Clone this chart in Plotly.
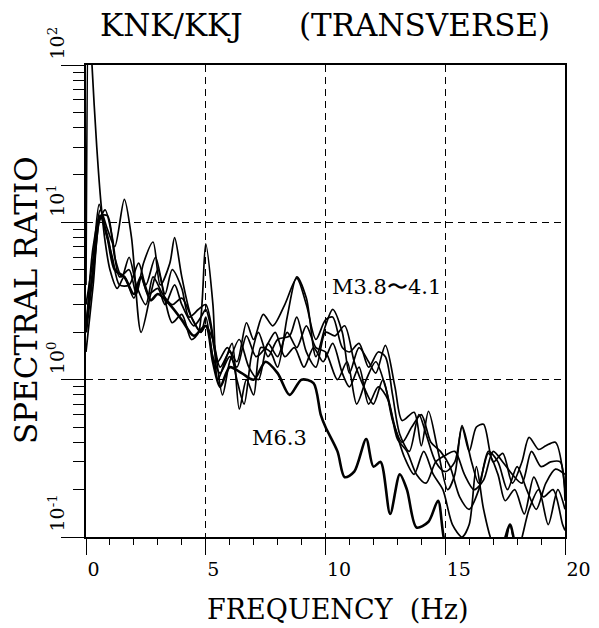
import math
import plotly.graph_objects as go

# ---- data ----
freq_1 = [0.0, 0.12, 0.25, 0.45, 0.63, 0.8, 1.0, 1.3, 1.6, 2.0, 2.3, 2.6, 3.0, 3.3, 3.7, 4.0, 4.5, 4.8, 5.0, 5.2, 5.5,
          5.9, 6.3, 6.7, 7.0, 7.4, 7.8, 8.3, 8.8, 9.2, 9.6, 10.0, 10.3, 10.7, 11.0, 11.4, 11.8, 12.2, 12.5, 12.8,
          13.1, 13.5, 13.9, 14.2, 14.6, 15.0, 15.4, 15.7, 16.0, 16.3, 16.6, 17.0, 17.4, 17.8, 18.2, 18.5, 18.9,
          19.2, 19.6, 20.0]
ratio_1 = [4.0, 300, 100, 30, 13, 7.5, 5.0, 3.8, 4.5, 3.3, 4.5, 3.5, 3.8, 3.0, 4.0, 3.0, 2.2, 2.5, 2.8, 2.2, 1.3,
           1.6, 1.3, 2.3, 1.8, 2.6, 2.2, 3.0, 4.4, 3.0, 1.8, 2.4, 2.5, 1.6, 1.5, 1.7, 1.2, 1.5, 1.4, 0.8,
           0.45, 0.35, 0.6, 0.45, 0.3, 0.26, 0.3, 0.5, 0.35, 0.5, 0.52, 0.3, 0.34, 0.22, 0.3, 0.43, 0.36,
           0.38, 0.4, 0.2]

freq_2 = [0.0, 0.3, 0.6, 0.9, 1.2, 1.6, 1.9, 2.3, 2.7, 3.0, 3.3, 3.6, 4.0, 4.4, 4.7, 5.0, 5.3, 5.5, 5.8, 6.1, 6.4,
          6.7, 7.0, 7.3, 7.7, 8.0, 8.4, 8.8, 9.2, 9.6, 10.0, 10.3, 10.7, 11.0, 11.4, 11.8, 12.1, 12.5, 12.9,
          13.2, 13.7, 14.0, 14.3, 14.7, 15.1, 15.4, 15.7, 16.1, 16.4, 16.8, 17.2, 17.5, 17.9, 18.3, 18.7,
          19.1, 19.5, 19.9, 20.0]
ratio_2 = [2.3, 5.0, 12, 9.0, 7.0, 14, 8.0, 2.0, 3.5, 5.0, 3.2, 2.3, 2.6, 1.8, 2.0, 7.3, 3.0, 1.0, 1.3, 1.7, 0.65,
           1.0, 0.8, 1.6, 1.5, 1.2, 2.5, 4.5, 3.3, 1.4, 2.2, 2.8, 2.0, 1.1, 1.6, 1.3, 1.1, 1.65, 0.9,
           0.55, 0.62, 0.38, 0.63, 0.35, 0.2, 0.25, 0.51, 0.3, 0.22, 0.34, 0.25, 0.17, 0.2, 0.14, 0.24,
           0.18, 0.2, 0.12, 0.11]

freq_3 = [0.0, 0.3, 0.55, 0.8, 1.1, 1.4, 1.8, 2.1, 2.4, 2.8, 3.1, 3.5, 3.7, 4.0, 4.4, 4.8, 5.0, 5.3, 5.6, 6.0, 6.3,
          6.6, 6.9, 7.2, 7.6, 8.0, 8.5, 8.8, 9.2, 9.6, 10.0, 10.4, 10.8, 11.2, 11.6, 12.0, 12.4, 12.8, 13.2,
          13.6, 14.0, 14.4, 14.8, 15.2, 15.6, 16.0, 16.4, 16.8, 17.2, 17.6, 18.0, 18.4, 18.8, 19.2, 19.6, 20.0]
ratio_3 = [1.5, 4.0, 10, 12, 8.0, 4.5, 5.0, 3.5, 5.5, 7.5, 4.0, 5.5, 8.0, 4.5, 2.5, 2.0, 2.2, 1.8, 1.2, 1.5, 1.0,
           0.7, 1.4, 2.0, 1.4, 1.8, 1.9, 2.5, 1.5, 1.2, 2.0, 1.9, 2.2, 1.3, 0.9, 0.7, 1.0, 0.55, 0.4,
           0.5, 0.6, 0.4, 0.35, 0.28, 0.18, 0.15, 0.2, 0.35, 0.3, 0.2, 0.28, 0.2, 0.15, 0.22, 0.27, 0.25]

freq_4 = [0.0, 0.3, 0.55, 0.8, 1.1, 1.4, 1.8, 2.2, 2.5, 2.9, 3.3, 3.6, 4.0, 4.3, 4.7, 5.0, 5.4, 5.7, 6.0, 6.4, 6.8,
          7.2, 7.6, 8.0, 8.4, 8.8, 9.2, 9.6, 10.0, 10.5, 10.9, 11.3, 11.7, 12.1, 12.5, 12.9, 13.3, 13.7, 14.1,
          14.5, 14.9, 15.3, 15.7, 16.0, 16.3, 16.6, 17.0, 17.4, 17.7, 18.0, 18.5, 18.9, 19.3, 19.7, 20.0]
ratio_4 = [3.0, 6.0, 13, 9.0, 6.0, 4.0, 4.0, 5.5, 4.0, 6.0, 3.5, 5.0, 3.8, 2.5, 2.8, 3.0, 1.5, 0.8, 1.3, 1.8, 1.2,
           1.0, 1.7, 1.4, 2.0, 1.6, 2.2, 1.6, 1.5, 1.0, 1.3, 0.7, 1.0, 1.3, 0.9, 0.5, 0.32, 0.25, 0.35,
           0.25, 0.2, 0.12, 0.1, 0.12, 0.28, 0.15, 0.09, 0.08, 0.12, 0.08, 0.15, 0.2, 0.12, 0.2, 0.15]

freq_5 = [0.0, 0.3, 0.6, 0.9, 1.2, 1.5, 1.8, 2.1, 2.5, 2.8, 3.2, 3.6, 4.0, 4.4, 4.8, 5.0, 5.3, 5.6, 6.0, 6.3, 6.7,
          7.1, 7.5, 7.9, 8.3, 8.7, 9.1, 9.5, 9.9, 10.3, 10.7, 11.0, 11.4, 11.8, 12.2, 12.6, 13.0, 13.4, 13.8,
          14.2, 14.6, 15.0, 15.4, 15.8, 16.2, 16.6, 17.0, 17.4, 17.8, 18.2, 18.6, 19.0, 19.4, 19.8, 20.0]
ratio_5 = [2.0, 7.0, 11, 11, 6.0, 4.5, 6.0, 4.0, 3.0, 4.5, 3.5, 3.0, 3.3, 2.5, 2.0, 2.5, 1.4, 1.1, 1.4, 1.2, 1.9,
           1.4, 1.6, 2.0, 1.4, 1.6, 1.2, 1.6, 1.3, 1.7, 1.1, 0.9, 1.2, 0.7, 0.9, 0.75, 0.42, 0.35, 0.25,
           0.22, 0.3, 0.33, 0.35, 0.25, 0.2, 0.23, 0.35, 0.3, 0.25, 0.22, 0.35, 0.28, 0.3, 0.3, 0.17]

# M6.3 event
freq_m63 = [0.0, 0.3, 0.6, 0.9, 1.2, 1.6, 2.0, 2.3, 2.7, 3.0, 3.5, 4.0, 4.5, 5.0, 5.3, 5.6, 6.0, 6.5, 7.0, 7.5,
            8.0, 8.5, 9.0, 9.5, 9.8, 10.0, 10.5, 10.8, 11.2, 11.7, 12.0, 12.3, 12.7, 13.1, 13.4, 13.8, 14.3,
            14.7, 15.0, 15.5, 16.0, 16.5, 17.0, 17.4, 17.7, 18.0, 18.5, 19.0, 19.5, 20.0]
ratio_m63 = [2.0, 5.0, 11, 8.0, 5.0, 4.5, 3.5, 4.5, 3.2, 3.5, 3.0, 2.4, 1.9, 2.2, 1.3, 0.9, 1.2, 1.1, 1.0, 1.3,
             1.1, 0.8, 1.0, 0.95, 0.6, 0.5, 0.35, 0.24, 0.26, 0.42, 0.28, 0.3, 0.14, 0.25, 0.2, 0.115, 0.125,
             0.17, 0.09, 0.07, 0.06, 0.07, 0.08, 0.09, 0.12, 0.08, 0.06, 0.06, 0.07, 0.08]

x_ticks = [0, 5, 10, 15, 20]
x_tick_text = ["0", "5", "10", "15", "20"]
y_ticks = [0.1, 1, 10, 100]
y_tick_text = ["10<sup>-1</sup>", "10<sup>0</sup>", "10<sup>1</sup>", "10<sup>2</sup>"]

SERIF = "DejaVu Serif"

# page offset (browser body margin) and plot-area geometry in page pixels
OFF = 8
PL, PR, PT, PB = 86, 565, 65, 537       # plot area edges in page pixels
W, H = 599 - OFF, 628 - OFF
pw, ph = PR - PL, PB - PT


def px_x(px):
    return (px - PL) / pw


def px_y(py):
    return (PB - py) / ph


fig = go.Figure()
thin = [(freq_1, ratio_1), (freq_2, ratio_2), (freq_3, ratio_3), (freq_4, ratio_4), (freq_5, ratio_5)]
for fx, ry in thin:
    fig.add_trace(go.Scatter(x=fx, y=ry, mode="lines",
                             line=dict(color="black", width=1.7, shape="spline", smoothing=0.8),
                             showlegend=False, hoverinfo="skip"))
fig.add_trace(go.Scatter(x=freq_m63, y=ratio_m63, mode="lines",
                         line=dict(color="black", width=2.6, shape="spline", smoothing=0.8),
                         showlegend=False, hoverinfo="skip"))

x_minor = [v for v in range(1, 20) if v % 5 != 0]
y_minor = [m * d for d in (0.1, 1, 10) for m in range(2, 10)]

fig.update_xaxes(range=[0, 20], tickvals=x_ticks, ticktext=x_tick_text,
                 ticks="outside", ticklen=16, tickwidth=1.2, tickcolor="black",
                 ticklabelposition="outside right", ticklabelstandoff=14,
                 tickfont=dict(family=SERIF, size=19, color="black"),
                 showline=True, linewidth=1.6, linecolor="black", mirror=True,
                 showgrid=True, gridcolor="black", gridwidth=1, griddash="7px,5px",
                 zeroline=False, automargin=False,
                 minor=dict(tickvals=x_minor, ticks="outside", ticklen=6, tickwidth=1,
                            tickcolor="black", showgrid=False))
fig.update_yaxes(type="log", range=[-1, 2], tickvals=y_ticks, showticklabels=False,
                 ticks="outside", ticklen=23, tickwidth=1.2, tickcolor="black",
                 showline=True, linewidth=1.6, linecolor="black", mirror=True,
                 showgrid=True, gridcolor="black", gridwidth=1, griddash="7px,5px",
                 zeroline=False, automargin=False,
                 minor=dict(tickvals=y_minor, ticks="outside", ticklen=11, tickwidth=1,
                            tickcolor="black", showgrid=False))

annotations = []
for tv, tt in zip(y_ticks, y_tick_text):
    annotations.append(dict(text=tt, x=px_x(56), xref="paper", y=math.log10(tv), yref="y",
                            xanchor="center", yanchor="bottom", yshift=3, textangle=-90,
                            showarrow=False, font=dict(family=SERIF, size=19, color="black")))

annotations += [
    dict(text="KNK/KKJ", x=px_x(171), y=px_y(25), xref="paper", yref="paper",
         xanchor="center", yanchor="middle", showarrow=False,
         font=dict(family=SERIF, size=31, color="black")),
    dict(text="(TRANSVERSE)", x=px_x(424), y=px_y(25), xref="paper", yref="paper",
         xanchor="center", yanchor="middle", showarrow=False,
         font=dict(family=SERIF, size=31, color="black")),
    dict(text="SPECTRAL RATIO", x=px_x(26), y=px_y(300), xref="paper", yref="paper",
         textangle=-90, showarrow=False, xanchor="center", yanchor="middle",
         font=dict(family=SERIF, size=31, color="black")),
    dict(text="FREQUENCY  (Hz)", x=px_x(337), y=px_y(609), xref="paper", yref="paper",
         showarrow=False, xanchor="center", yanchor="middle",
         font=dict(family=SERIF, size=27, color="black")),
    dict(text="M3.8〜4.1", x=10.2, y=0.592, xref="x", yref="y", xanchor="left", yanchor="middle",
         showarrow=False, font=dict(family=SERIF, size=21, color="black")),
    dict(text="M6.3", x=8.06, y=-0.369, xref="x", yref="y", xanchor="center", yanchor="middle",
         showarrow=False, font=dict(family=SERIF, size=21, color="black")),
]

fig.update_layout(width=W, height=H,
                  margin=dict(l=PL - OFF, r=W - (PR - OFF), t=PT - OFF, b=H - (PB - OFF)),
                  paper_bgcolor="white", plot_bgcolor="white",
                  annotations=annotations, showlegend=False)

fig.write_html("out.html")
